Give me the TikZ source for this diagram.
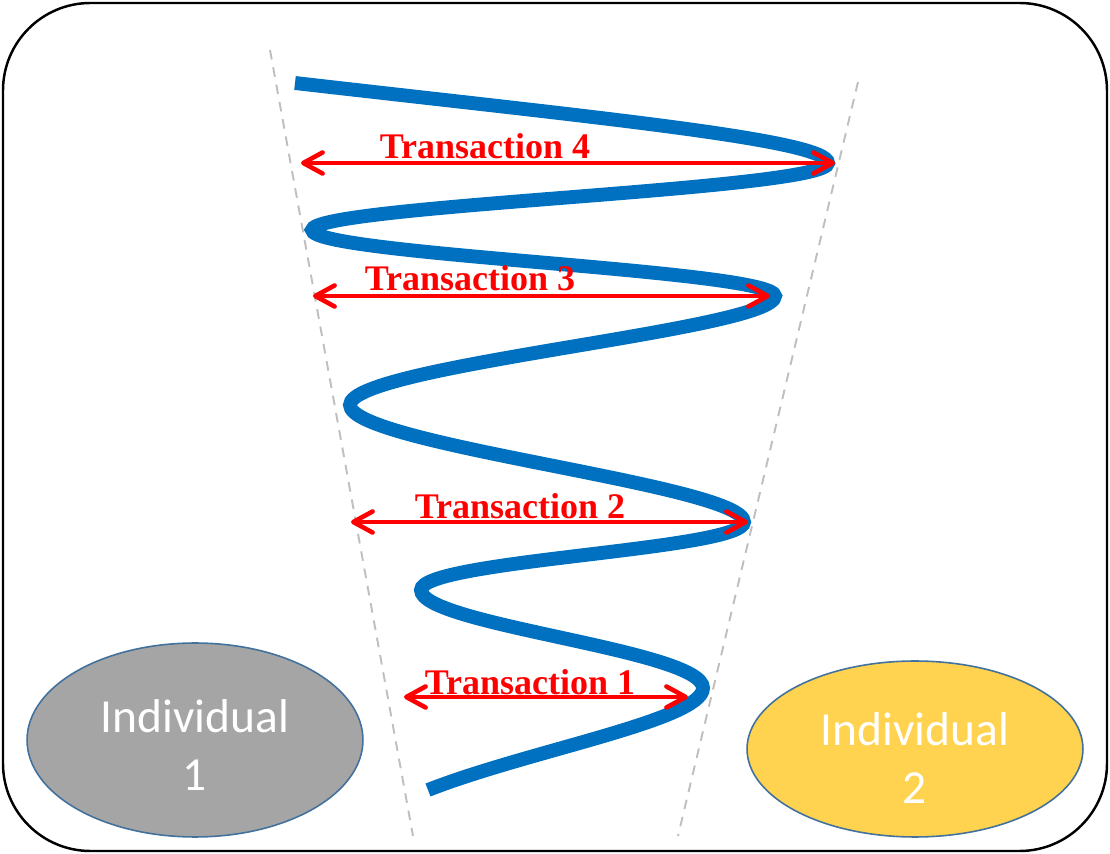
\documentclass[tikz,border=0pt]{standalone}
\usepackage{fontspec}
\setmainfont{Liberation Serif}
\newfontfamily\calibri{Carlito}
\usetikzlibrary{arrows.meta}
\usetikzlibrary{shapes.geometric}
\usepackage{xcolor}
\definecolor{spiralblue}{HTML}{0070C0}
\definecolor{edgeblue}{HTML}{41719C}
\definecolor{greyfill}{HTML}{A5A5A5}
\definecolor{goldfill}{HTML}{FFD34F}
\definecolor{guidegrey}{HTML}{BFBFBF}

\begin{document}
\begin{tikzpicture}
	[x=0.02cm, y=-0.02cm,
	frame/.style = {
		draw, line width=1.4pt, rounded corners=1.75cm
	},
	guide/.style = {
		draw=guidegrey, line width=1.1pt, dash pattern=on 5.5pt off 4.5pt
	},
	spiral/.style = {
		draw=spiralblue, line width=7.9pt
	},
	deal/.style = {
		draw=red, line width=2.6pt, <->, >={Straight Barb[length=11pt,width=12pt,round]}
	},
	dealtext/.style = {
		text=red, font=\fontsize{20.5}{24}\selectfont\bfseries, inner sep=0pt
	},
	person/.style = {
		ellipse, draw=edgeblue, line width=0.9pt, text=white, align=center,
		minimum width=6.72cm, font=\calibri\fontsize{27}{33}\selectfont
	}]

	\useasboundingbox (0,0) rectangle (1110,854);
	\path[frame] (3,3) rectangle (1107,851);

	%Draw guides
	\coordinate (gl1) at (270,50);
	\coordinate (gl2) at (413,836);
	\coordinate (gr1) at (858,82);
	\coordinate (gr2) at (678,836);
	\draw[guide] (gl1) -- (gl2);
	\draw[guide] (gr1) -- (gr2);

	%Draw spiral
	\coordinate (s0) at (295,83);
	\coordinate (r1) at (828,163);
	\coordinate (l1) at (312,230);
	\coordinate (r2) at (775,296);
	\coordinate (l2) at (350,405);
	\coordinate (r3) at (744,522);
	\coordinate (l3) at (421,590);
	\coordinate (r4) at (703,688);
	\coordinate (s9) at (428,790);
	\draw[spiral] (s0) .. controls (600,118) and (828,140) .. (r1)
	.. controls (828,190) and (312,205) .. (l1)
	.. controls (312,255) and (775,270) .. (r2)
	.. controls (775,330) and (350,365) .. (l2)
	.. controls (350,445) and (744,485) .. (r3)
	.. controls (744,550) and (421,560) .. (l3)
	.. controls (421,625) and (703,650) .. (r4)
	.. controls (703,720) and (530,750) .. (s9);

	%Draw nodes
	\node[dealtext] at (485,146) (lab4) {Transaction 4};
	\node[dealtext] at (470,278) (lab3) {Transaction 3};
	\node[dealtext] at (520,506) (lab2) {Transaction 2};
	\node[dealtext] at (530,682) (lab1) {Transaction 1};
	\node[person, fill=greyfill, minimum height=3.88cm] at (195,740) (ind1) {\rule{0pt}{25pt}Individual\\1};
	\node[person, fill=goldfill, minimum height=3.52cm] at (915,749) (ind2) {\rule{0pt}{29pt}Individual\\2};
	\coordinate (t4l) at (301,163);
	\coordinate (t4r) at (835,163);
	\coordinate (t3l) at (313,296);
	\coordinate (t3r) at (770,296);
	\coordinate (t2l) at (351,522);
	\coordinate (t2r) at (748,522);
	\coordinate (t1l) at (404,697);
	\coordinate (t1r) at (688,697);

	%Draw arrows
	\draw[deal] (t4l) -- (t4r);
	\draw[deal] (t3l) -- (t3r);
	\draw[deal] (t2l) -- (t2r);
	\draw[deal] (t1l) -- (t1r);
\end{tikzpicture}
\end{document}
